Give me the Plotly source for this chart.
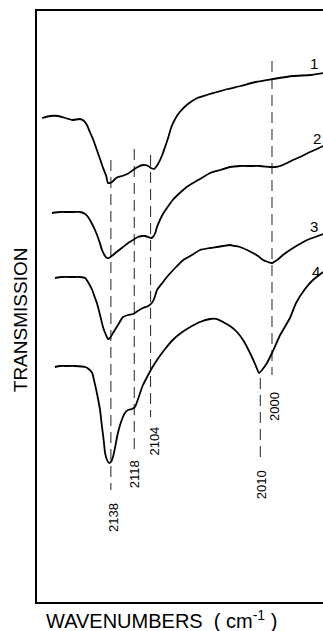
import plotly.graph_objects as go

# ---- data (wavenumber in cm-1, transmission in arbitrary stacked units) ----
wn1 = [2197, 2190, 2183, 2177, 2171, 2164.5, 2161, 2158.5, 2156, 2153, 2150, 2147, 2145, 2142,
       2140.5, 2139, 2137, 2134.5, 2132, 2128.5, 2126, 2122.5, 2119, 2115, 2110.5, 2106, 2103.6,
       2101, 2099.4, 2097.6, 2094, 2091.6, 2089, 2086.5, 2083, 2079, 2072, 2064, 2056, 2047,
       2038, 2027, 2014, 1999, 1982, 1967, 1956]
tr1 = [484, 486, 486, 484, 482, 483, 481, 477, 470, 462, 452, 442, 435, 426,
       419, 419, 420, 423, 425, 426, 427, 429, 432, 435, 437, 436, 434,
       433, 435, 438, 447, 455, 464, 474, 483, 490, 498, 504, 507, 510,
       513, 516, 520, 523, 526, 527, 529]

wn2 = [2188.5, 2181.6, 2175.6, 2169, 2164.5, 2160, 2157.6, 2155, 2151.6, 2148, 2145.6, 2143,
       2141.3, 2139.6, 2136.2, 2132, 2127.6, 2123.3, 2119, 2115, 2111.4, 2108.8, 2106, 2103.6,
       2102, 2100, 2098.5, 2096, 2093.4, 2090, 2085, 2079, 2073, 2067.7, 2061.7, 2053, 2044.5,
       2036, 2027.4, 2019, 2010.3, 2001.7, 1997.4, 1993, 1987, 1982, 1976, 1967.4, 1961.4, 1956.3]
tr2 = [389, 390, 390, 390, 390, 388, 385, 380, 372, 361, 352, 346,
       344, 344, 347, 351, 355, 359, 362, 365, 366, 366, 365, 364,
       365, 369, 375, 382, 388, 394, 402, 409, 415, 419, 423, 429, 432,
       435, 436, 436, 436, 435, 435, 436, 439, 442, 445, 450, 453, 456]

wn3 = [2185.9, 2180, 2170.5, 2164.5, 2160, 2157.6, 2154, 2151.6, 2150, 2147.3, 2144.8, 2142.2,
       2140.5, 2138.8, 2136.2, 2132, 2127.6, 2123.3, 2119, 2115, 2110.5, 2106, 2103, 2101,
       2098.5, 2094, 2090, 2083, 2076, 2068.5, 2061.7, 2053, 2047, 2042, 2036, 2031.7, 2027.4,
       2021.4, 2016.3, 2012, 2007.7, 2003.4, 2000, 1995.7, 1990.6, 1984.6, 1977.7, 1970, 1963,
       1956.3]
tr3 = [324, 325, 325, 325, 324, 320, 312, 304, 299, 287, 275, 267,
       263, 264, 269, 277, 285, 287, 288, 291, 294, 296, 299, 303,
       312, 319, 325, 334, 342, 347, 352, 354, 355, 356, 357, 356, 355,
       352, 349, 346, 342, 340, 339, 342, 347, 352, 357, 362, 365,
       368]

wn4 = [2186, 2181.6, 2175.6, 2169, 2160, 2157, 2154, 2152.5, 2150, 2147.3, 2145.6, 2144,
       2143, 2141.3, 2139.6, 2138, 2136.2, 2134.5, 2132, 2129.3, 2126, 2123.3, 2120, 2117.4,
       2115, 2113, 2110.5, 2107, 2102.8, 2098.5, 2091.6, 2085, 2078, 2070, 2061.7, 2053, 2047,
       2042, 2036, 2030, 2024.8, 2018.8, 2014.5, 2011, 2008.5, 2004.3, 2000, 1993, 1984.6,
       1979.4, 1971.7, 1964.9, 1956.3]
tr4 = [235, 236, 236, 236, 235, 233, 229, 222, 209, 192, 175, 160,
       149, 142, 139, 140, 145, 154, 169, 180, 189, 192, 193, 195,
       202, 209, 217, 225, 234, 242, 253, 262, 269, 275, 280, 283, 283,
       280, 276, 270, 262, 249, 238, 229, 232, 239, 249, 267, 284,
       299, 313, 322, 330]

curve_names = ["1", "2", "3", "4"]
curve_label_wn = [1964, 1961.4, 1964, 1962]
curve_label_tr = [539, 464, 376, 331]

peak_wn = [2138, 2118, 2104, 2010, 2000]
peak_labels = ["2138", "2118", "2104", "2010", "2000"]
peak_line_top = [442, 453, 447, 224, 541]
peak_line_bottom = [112, 149, 185, 144, 227]
peak_label_tr = [85, 128, 161, 117, 196]
peak_label_shift = [2, 0, 3, 1, 2]

FONT = "Liberation Sans, Arial, sans-serif"

fig = go.Figure()

# dashed marker lines
for w, top, bot in zip(peak_wn, peak_line_top, peak_line_bottom):
    fig.add_trace(go.Scatter(x=[w, w], y=[top, bot], mode="lines",
                             line=dict(color="#222", width=1, dash="11px,6px"),
                             hoverinfo="skip", showlegend=False))

# spectra
for wn, tr in [(wn1, tr1), (wn2, tr2), (wn3, tr3), (wn4, tr4)]:
    fig.add_trace(go.Scatter(x=wn, y=tr, mode="lines",
                             line=dict(color="black", width=1.8, shape="spline", smoothing=0.5),
                             hoverinfo="skip", showlegend=False))

annotations = []
for name, w, t in zip(curve_names, curve_label_wn, curve_label_tr):
    annotations.append(dict(x=w, y=t, xref="x", yref="y", text=name, showarrow=False,
                            font=dict(family=FONT, size=15, color="black"),
                            xanchor="center", yanchor="middle"))
for w, lab, t, s in zip(peak_wn, peak_labels, peak_label_tr, peak_label_shift):
    annotations.append(dict(x=w, y=t, xref="x", yref="y", text=lab, showarrow=False,
                            textangle=-90, xshift=s,
                            font=dict(family=FONT, size=13, color="black"),
                            xanchor="center", yanchor="middle"))

annotations.append(dict(x=0.437, y=-0.030, xref="paper", yref="paper",
                        text="WAVENUMBERS\u00a0\u00a0(\u00a0cm<sup>-1</sup>\u00a0)", showarrow=False,
                        font=dict(family=FONT, size=20, color="black"),
                        xanchor="center", yanchor="middle"))
annotations.append(dict(x=-0.059, y=0.477, xref="paper", yref="paper",
                        text="TRANSMISSION", showarrow=False, textangle=-90,
                        font=dict(family=FONT, size=19, color="black"),
                        xanchor="center", yanchor="middle"))

fig.update_layout(
    width=323, height=631,
    margin=dict(l=37, r=0, t=11, b=29),
    paper_bgcolor="white", plot_bgcolor="white",
    annotations=annotations,
    xaxis=dict(range=[2201.3, 1956.3], showgrid=False, zeroline=False, showticklabels=False,
               ticks="", showline=True, mirror=True, linecolor="black", linewidth=1.6),
    yaxis=dict(range=[0, 591], showgrid=False, zeroline=False, showticklabels=False,
               ticks="", showline=True, mirror=False, linecolor="black", linewidth=1.8),
)

fig.write_html("out.html", config={"displayModeBar": False},
               post_script="document.body.style.margin='0';document.body.style.overflow='hidden';")
